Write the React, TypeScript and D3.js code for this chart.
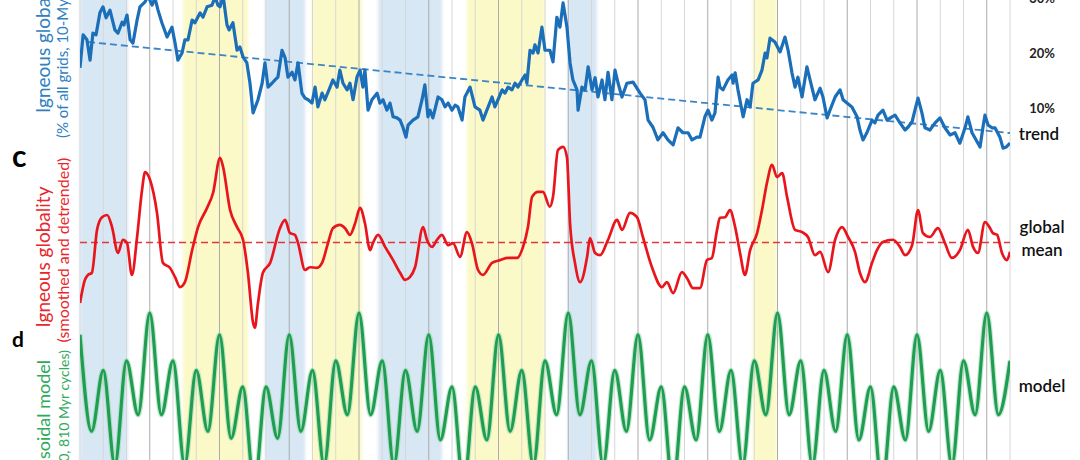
import React from 'react';
import * as d3 from 'd3';

const W = 1080;
const H = 460;

// time axis: Myr from the left edge of the record, grid every 90 Myr
const TIME_DOMAIN = [0, 3600];
const GRID_STEP = 90;
const MAJOR_EVERY = 3;

const blueBands: [number, number][] = [[0, 185], [716, 871], [1154, 1401], [1889, 2001]];
const yellowBands: [number, number][] = [[399, 650], [898, 1092], [1498, 1800], [2605, 2698]];

// igneous globality (% of all grids)
const globality: [number, number][] = [
  [0, 17.3], [12, 23.3], [27, 22.4], [39, 18.7], [50, 23.6], [62, 23.3], [77, 27.3], [89, 28.4], [101, 26.4], [116, 27.8],
  [135, 24.2], [147, 23.6], [163, 25.6], [170, 25.1], [182, 26.9], [194, 22.4], [205, 21.8], [221, 26.0], [232, 28.4], [252, 29.3],
  [263, 30.4], [279, 28.7], [290, 30.0], [302, 27.8], [317, 25.5], [337, 22.9], [356, 24.7], [368, 21.8], [379, 18.7], [395, 20.0],
  [406, 22.4], [418, 22.4], [434, 26.0], [445, 25.5], [465, 27.3], [476, 26.5], [492, 28.4], [511, 28.7], [523, 30.2], [534, 28.7],
  [542, 28.4], [554, 30.4], [569, 25.1], [577, 24.2], [592, 25.5], [608, 20.5], [619, 21.1], [631, 19.3], [646, 18.2], [658, 14.5],
  [670, 9.1], [689, 11.5], [705, 14.5], [716, 18.2], [728, 13.8], [743, 14.5], [755, 15.1], [766, 15.6], [782, 20.5], [794, 19.1],
  [805, 15.6], [821, 16.5], [832, 15.1], [844, 18.2], [859, 12.7], [871, 11.8], [883, 11.5], [898, 10.9], [910, 13.8], [921, 10.2],
  [937, 12.7], [948, 11.5], [968, 13.8], [979, 15.1], [995, 13.8], [1006, 16.9], [1018, 14.5], [1034, 13.3], [1045, 14.5], [1057, 11.5],
  [1072, 15.6], [1084, 16.9], [1095, 13.8], [1103, 16.9], [1115, 9.6], [1130, 11.5], [1150, 12.7], [1161, 10.9], [1173, 11.5], [1188, 9.6],
  [1200, 10.9], [1212, 8.4], [1227, 8.2], [1239, 7.8], [1250, 6.5], [1262, 4.7], [1270, 6.9], [1289, 7.8], [1308, 8.4], [1324, 11.5],
  [1335, 14.2], [1347, 8.4], [1355, 9.6], [1366, 8.2], [1386, 12.0], [1401, 11.5], [1413, 10.2], [1425, 10.9], [1440, 9.6], [1452, 10.5],
  [1463, 10.2], [1479, 7.8], [1490, 12.0], [1510, 13.8], [1529, 10.2], [1548, 9.6], [1560, 7.8], [1575, 9.6], [1595, 12.0], [1606, 10.2],
  [1618, 11.5], [1634, 13.3], [1645, 12.7], [1657, 13.8], [1672, 13.3], [1684, 14.5], [1695, 13.8], [1711, 15.1], [1723, 16.0], [1730, 14.5],
  [1742, 20.5], [1754, 20.0], [1761, 21.5], [1773, 20.0], [1788, 24.7], [1800, 20.5], [1819, 20.5], [1831, 18.4], [1846, 26.5], [1858, 24.7],
  [1870, 29.1], [1885, 24.7], [1897, 18.2], [1908, 15.1], [1924, 13.3], [1928, 9.6], [1943, 13.8], [1955, 13.3], [1967, 17.5], [1982, 13.3],
  [1994, 15.5], [2005, 12.0], [2021, 15.1], [2032, 11.5], [2044, 16.5], [2059, 11.5], [2071, 16.9], [2083, 14.5], [2098, 12.0], [2117, 14.5],
  [2141, 14.7], [2168, 12.7], [2187, 11.5], [2199, 7.8], [2218, 6.5], [2237, 4.2], [2257, 5.5], [2276, 4.2], [2296, 3.3], [2315, 6.4],
  [2334, 5.5], [2354, 5.5], [2369, 4.2], [2388, 4.7], [2400, 4.7], [2419, 8.4], [2431, 9.6], [2446, 7.8], [2458, 9.1], [2470, 15.6],
  [2477, 13.8], [2489, 13.3], [2508, 15.1], [2524, 16.0], [2528, 14.5], [2536, 16.4], [2547, 13.3], [2567, 8.4], [2582, 11.5], [2594, 10.2],
  [2605, 14.5], [2625, 15.1], [2640, 16.9], [2652, 20.0], [2659, 19.1], [2671, 22.7], [2690, 22.0], [2710, 20.2], [2729, 22.9], [2741, 20.5],
  [2756, 16.4], [2768, 13.8], [2779, 15.6], [2795, 12.0], [2814, 17.5], [2826, 15.1], [2845, 11.5], [2865, 13.6], [2876, 12.0], [2892, 8.2],
  [2903, 9.6], [2923, 12.0], [2942, 13.3], [2954, 11.5], [2969, 10.9], [2988, 10.2], [3008, 8.4], [3019, 6.0], [3031, 4.2], [3046, 5.5],
  [3066, 7.8], [3077, 7.3], [3089, 8.7], [3108, 9.6], [3124, 7.8], [3143, 8.4], [3155, 8.7], [3174, 7.3], [3194, 6.0], [3205, 6.5],
  [3221, 7.5], [3232, 9.6], [3244, 11.8], [3259, 9.1], [3271, 6.4], [3290, 6.0], [3310, 7.3], [3329, 8.2], [3348, 6.4], [3368, 5.1],
  [3387, 5.5], [3406, 3.6], [3426, 6.4], [3437, 8.4], [3453, 5.5], [3465, 4.5], [3484, 2.9], [3495, 6.4], [3503, 8.7], [3515, 6.9],
  [3530, 6.4], [3542, 6.4], [3561, 4.7], [3573, 2.7], [3585, 2.9], [3600, 3.6],
];

// linear trend of globality (start / end)
const trendT = [31, 3600];
const trendV = [22.0, 5.45];
const globalityTicks = [10, 20, 30];

// smoothed and detrended globality (anomaly, %)
const detrended: [number, number][] = [
  [0, -11.0], [19, -6.8], [31, -5.9], [46, -5.5], [66, 2.3], [85, 4.6], [105, 5.0], [124, 2.8], [147, -1.9], [166, 0.5],
  [182, -0.1], [201, -5.9], [221, 1.0], [240, 9.5], [252, 12.8], [271, 11.4], [298, 5.4], [321, -3.7], [348, -4.6], [368, -6.3],
  [387, -8.1], [406, -7.2], [434, -1.4], [457, 2.8], [492, 6.3], [515, 9.0], [542, 15.4], [554, 13.7], [581, 5.9], [608, 2.8],
  [631, 0.5], [650, -5.5], [670, -14.6], [677, -15.5], [689, -11.0], [708, -5.5], [736, -3.7], [774, 2.6], [794, 4.1], [813, 1.7],
  [832, 1.4], [844, -0.1], [871, -5.0], [890, -4.5], [917, -4.6], [937, -3.7], [960, -0.1], [979, 2.6], [1006, 3.2], [1026, 2.6],
  [1045, 1.4], [1065, 3.5], [1084, 6.3], [1103, 3.5], [1123, -1.4], [1134, -0.1], [1154, 1.4], [1181, -0.8], [1212, -3.2], [1239, -5.5],
  [1258, -6.8], [1277, -6.3], [1297, -4.5], [1328, 2.8], [1343, 0.5], [1363, -0.8], [1382, 0.5], [1401, 1.4], [1425, -0.5], [1444, -0.1],
  [1471, -2.6], [1498, 1.9], [1517, -0.1], [1541, -5.0], [1560, -5.9], [1595, -3.7], [1626, -3.2], [1657, -2.8], [1692, -2.8], [1715, -0.8],
  [1734, 2.8], [1750, 8.3], [1773, 9.2], [1792, 9.2], [1819, 6.5], [1831, 8.3], [1850, 16.8], [1870, 17.4], [1885, 15.5], [1897, 3.5],
  [1916, -3.7], [1936, -7.2], [1963, -2.6], [1974, 0.8], [1994, -1.9], [2013, -2.3], [2044, 0.5], [2079, 4.1], [2098, 2.3], [2129, 5.4],
  [2156, 4.6], [2179, 1.0], [2214, -4.5], [2253, -8.1], [2272, -7.2], [2296, -9.2], [2330, -5.4], [2350, -6.5], [2373, -8.3], [2400, -8.3],
  [2427, -3.2], [2446, -2.8], [2466, 2.3], [2477, 4.5], [2497, 4.6], [2516, 5.9], [2536, 2.8], [2555, -1.9], [2574, -5.9], [2594, -1.4],
  [2621, 1.7], [2640, 5.9], [2659, 10.8], [2679, 14.1], [2698, 11.9], [2718, 12.6], [2737, 8.3], [2768, 2.3], [2795, 1.9], [2818, 1.0],
  [2845, -2.3], [2865, -1.7], [2896, -5.4], [2923, 0.5], [2950, 2.8], [2973, 1.0], [3000, -1.7], [3019, -5.5], [3039, -7.2], [3066, -3.7],
  [3085, -1.4], [3108, 0.1], [3147, 0.5], [3174, -0.8], [3194, -2.3], [3221, -0.5], [3244, 5.9], [3263, 1.7], [3290, 1.0], [3321, 2.6],
  [3348, -0.1], [3375, -2.8], [3406, -1.4], [3437, 2.3], [3457, -0.8], [3476, -1.9], [3503, 3.7], [3523, 2.6], [3534, 1.7], [3550, 1.4],
  [3569, -1.9], [3588, -3.2], [3600, -1.7],
];
const globalMean = 0;

// sinusoidal model: peak values at every grid line, trough values half-way between
const modelPeaks = [
  0.75, 0.34, 0.45, 1.0, 0.45, 0.34, 0.75, 0.15, 0.15,
  0.75, 0.34, 0.45, 1.0, 0.45, 0.34, 0.75, 0.15, 0.15,
  0.75, 0.34, 0.45, 1.0, 0.45, 0.34, 0.75, 0.15, 0.15,
  0.75, 0.34, 0.45, 1.0, 0.45, 0.34, 0.75, 0.15, 0.15,
  0.75, 0.34, 0.45, 1.0, 0.45,
];
const modelTroughs = [
  -0.36, -0.75, -0.17, -0.17, -0.75, -0.36, -0.44, -1.0, -0.44,
  -0.36, -0.75, -0.17, -0.17, -0.75, -0.36, -0.46, -1.0, -0.46,
  -0.36, -0.75, -0.17, -0.17, -0.75, -0.36, -0.46, -1.0, -0.46,
  -0.36, -0.75, -0.17, -0.17, -0.75, -0.36, -0.46, -1.0, -0.46,
  -0.36, -0.75, -0.17, -0.17,
];

const FONT = 'Lato, "Open Sans", sans-serif';

export default function App() {
  const x = d3.scaleLinear().domain(TIME_DOMAIN).range([80, 1010]);
  const yBlue = d3.scaleLinear().domain([0, 30]).range([163, -2]);
  const yRed = d3.scaleLinear().domain([-10, 10]).range([297.5, 187.5]);
  const yGreen = d3.scaleLinear().domain([-1, 1]).range([487, 313]);

  const gridTimes = d3.range(TIME_DOMAIN[0], TIME_DOMAIN[1] + 1, GRID_STEP);

  const blueLine = d3.line<[number, number]>().x(d => x(d[0])).y(d => yBlue(d[1])).curve(d3.curveLinear);
  const redLine = d3.line<[number, number]>().x(d => x(d[0])).y(d => yRed(d[1])).curve(d3.curveMonotoneX);

  const model: [number, number][] = [];
  modelPeaks.forEach((p, i) => {
    model.push([i * GRID_STEP, p]);
    if (i < modelTroughs.length) model.push([i * GRID_STEP + GRID_STEP / 2, modelTroughs[i]]);
  });
  const greenLine = d3.line<[number, number]>().x(d => x(d[0])).y(d => yGreen(d[1])).curve(d3.curveMonotoneX);

  const trendData: [number, number][] = trendT.map((t, i) => [t, trendV[i]]);

  return (
    <svg width={W} height={H} style={{ position: 'absolute', left: 0, top: 0, background: '#fff', fontFamily: FONT }}>
      <defs>
        <filter id="soft" x="-10%" y="-10%" width="120%" height="120%">
          <feGaussianBlur stdDeviation="1.5" />
        </filter>
        <clipPath id="plot">
          <rect x={x(TIME_DOMAIN[0])} y={0} width={x(TIME_DOMAIN[1]) - x(TIME_DOMAIN[0])} height={H} />
        </clipPath>
      </defs>
      <rect width={W} height={H} fill="#fff" />
      <g filter="url(#soft)">
        {blueBands.map(([a, b], i) => (
          <rect key={'b' + i} x={x(a)} y={-5} width={x(b) - x(a)} height={H + 10} fill="#d8e7f4" />
        ))}
        {yellowBands.map(([a, b], i) => (
          <rect key={'y' + i} x={x(a)} y={-5} width={x(b) - x(a)} height={H + 10} fill="#fcf9c8" />
        ))}
      </g>
      {gridTimes.map((t, i) => (
        <line key={i} x1={x(t)} x2={x(t)} y1={0} y2={H}
          stroke={i % MAJOR_EVERY === 0 && i > 0 && i < gridTimes.length - 1 ? '#ababab' : '#d6d6d6'}
          strokeWidth={1} />
      ))}

      <g clipPath="url(#plot)">
        {/* panel b: globality */}
        <path d={blueLine(trendData) || ''} fill="none" stroke="#3b84c6" strokeWidth={1.8} strokeDasharray="7,4" />
        <path d={blueLine(globality) || ''} fill="none" stroke="#1b6eb8" strokeWidth={3.2} strokeLinejoin="round" />

        {/* panel c: detrended */}
        <line x1={x(TIME_DOMAIN[0])} x2={x(TIME_DOMAIN[1])} y1={yRed(globalMean)} y2={yRed(globalMean)}
          stroke="#e0393b" strokeWidth={1.6} strokeDasharray="7,4" />
        <path d={redLine(detrended) || ''} fill="none" stroke="#e8161c" strokeWidth={2.7} strokeLinejoin="round" />

        {/* panel d: model */}
        <path d={greenLine(model) || ''} fill="none" stroke="#9fd9b4" strokeWidth={5.5} opacity={0.6} />
        <path d={greenLine(model) || ''} fill="none" stroke="#1f9e52" strokeWidth={3.2} />
      </g>

      {/* right-hand labels */}
      {globalityTicks.map(v => (
        <text key={v} x={1042} y={yBlue(v) + 4.5} textAnchor="middle" fontSize={13} fontWeight={700} fill="#222">{v}%</text>
      ))}
      <text x={1039} y={140} textAnchor="middle" fontSize={17} fontWeight={600} fill="#111">trend</text>
      <text x={1042} y={233} textAnchor="middle" fontSize={17} fontWeight={600} fill="#111">global</text>
      <text x={1042} y={256} textAnchor="middle" fontSize={17} fontWeight={600} fill="#111">mean</text>
      <text x={1042} y={392} textAnchor="middle" fontSize={17} fontWeight={600} fill="#111">model</text>

      {/* panel letters */}
      <text x={12} y={167} fontSize={30} fontWeight={700} fill="#000">c</text>
      <text x={12} y={347} fontSize={21} fontWeight={700} fill="#000">d</text>

      {/* left axis titles */}
      <text transform="translate(50,113) rotate(-90)" textAnchor="start" fontSize={19} fill="#2f7fc1">Igneous globality</text>
      <text transform="translate(68,138) rotate(-90)" textAnchor="start" fontSize={15} fill="#2f7fc1">(% of all grids, 10-Myr bins)</text>
      <text transform="translate(50,257) rotate(-90)" textAnchor="middle" fontSize={19} fill="#e8262b">Igneous globality</text>
      <text transform="translate(69,250) rotate(-90)" textAnchor="middle" fontSize={16} fill="#e8262b">(smoothed and detrended)</text>
      <text transform="translate(50,360) rotate(-90)" textAnchor="end" fontSize={18} fill="#2eaa5a">Sinusoidal model</text>
      <text transform="translate(69,350) rotate(-90)" textAnchor="end" fontSize={14} fill="#2eaa5a">(90, 270, 810 Myr cycles)</text>
    </svg>
  );
}
